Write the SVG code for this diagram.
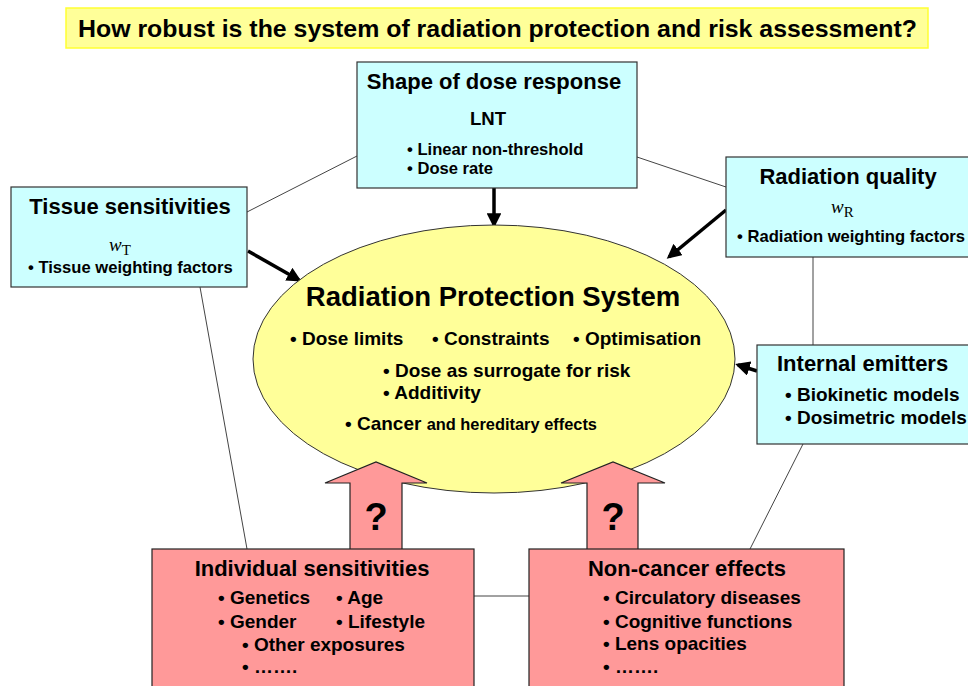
<svg xmlns="http://www.w3.org/2000/svg" width="968" height="686" viewBox="0 0 968 686">
<style>
text{font-family:"Liberation Sans",Arial,sans-serif;font-weight:bold;fill:#000}
.cyan{fill:#ccffff;stroke:#333;stroke-width:1.2}
.pink{fill:#ff9999;stroke:#222;stroke-width:1.2}
.thin{stroke:#444;stroke-width:1;fill:none}
.thick{stroke:#000;stroke-width:3.5;fill:none;marker-end:url(#ah)}
.h{font-size:22px}
.b{font-size:16.6px}
.m{font-size:19px}
.w{font-family:"Liberation Serif","Times New Roman",serif;font-weight:normal;font-size:19px}
</style>
<defs>
<marker id="ah" viewBox="0 0 10 10" refX="8" refY="5" markerWidth="4.2" markerHeight="4.2" orient="auto">
<path d="M0,0 L10,5 L0,10 z" fill="#000"/>
</marker>
</defs>
<rect width="968" height="686" fill="#fff"/>
<g id="title">
<rect x="66" y="8" width="862" height="40" fill="#ffff99" stroke="#ffff33" stroke-width="1.5"/>
<text x="78" y="37" font-size="24" textLength="839" lengthAdjust="spacingAndGlyphs">How robust is the system of radiation protection and risk assessment?</text>
</g>
<g id="connectors">
<line class="thin" x1="247" y1="212" x2="357" y2="156"/>
<line class="thin" x1="637" y1="157" x2="726" y2="187"/>
<line class="thin" x1="813" y1="257" x2="813" y2="345"/>
<line class="thin" x1="803" y1="444" x2="750" y2="549"/>
<line class="thin" x1="200" y1="287" x2="247" y2="549"/>
<line class="thin" x1="474" y1="596" x2="529" y2="596"/>
<line class="thick" x1="494" y1="188" x2="494" y2="225"/>
<line class="thick" x1="248" y1="251" x2="299" y2="280"/>
<line class="thick" x1="726" y1="210" x2="669" y2="257"/>
<line class="thick" x1="757" y1="371" x2="738" y2="365"/>
</g>
<g id="rps">
<ellipse cx="494" cy="359" rx="241" ry="134" fill="#ffff99" stroke="#333" stroke-width="1"/>
<text x="493" y="306" font-size="27.5" text-anchor="middle">Radiation Protection System</text>
<text x="290" y="345" class="m">• Dose limits</text>
<text x="432" y="345" class="m">• Constraints</text>
<text x="573" y="345" class="m">• Optimisation</text>
<text x="383" y="377" class="m">• Dose as surrogate for risk</text>
<text x="383" y="399" class="m">• Additivity</text>
<text x="345" y="430" class="m">• Cancer <tspan font-size="16.4">and hereditary effects</tspan></text>
</g>
<g id="arrow-left">
<path class="pink" d="M350,549 L350,483 L325,483 L376,462 L427,483 L402,483 L402,549"/>
<text x="376" y="530" font-size="38" text-anchor="middle">?</text>
</g>
<g id="arrow-right">
<path class="pink" d="M587,549 L587,483 L561,483 L613,462 L665,483 L638,483 L638,549"/>
<text x="613" y="530" font-size="38" text-anchor="middle">?</text>
</g>
<g id="shape">
<rect class="cyan" x="357" y="62" width="280" height="126"/>
<text x="494" y="89" class="h" text-anchor="middle">Shape of dose response</text>
<text x="488" y="125" font-size="18.6" text-anchor="middle">LNT</text>
<text x="407" y="155" class="b">• Linear non-threshold</text>
<text x="407" y="174" class="b">• Dose rate</text>
</g>
<g id="tissue">
<rect class="cyan" x="11" y="187" width="236" height="100"/>
<text x="130" y="214" class="h" text-anchor="middle">Tissue sensitivities</text>
<text x="109" y="251" class="w"><tspan font-style="italic">w</tspan><tspan font-size="15" dy="4">T</tspan></text>
<text x="28" y="273" class="b">• Tissue weighting factors</text>
</g>
<g id="quality">
<rect class="cyan" x="726" y="157" width="250" height="100"/>
<text x="848" y="184" class="h" text-anchor="middle">Radiation quality</text>
<text x="831" y="213" class="w"><tspan font-style="italic">w</tspan><tspan font-size="15" dy="4">R</tspan></text>
<text x="737" y="242" class="b">• Radiation weighting factors</text>
</g>
<g id="internal">
<rect class="cyan" x="757" y="345" width="220" height="99"/>
<text x="777" y="371" class="h">Internal emitters</text>
<text x="785" y="401" class="m">• Biokinetic models</text>
<text x="785" y="424" class="m">• Dosimetric models</text>
</g>
<g id="individual">
<rect class="pink" x="152" y="549" width="322" height="150"/>
<text x="312" y="576" class="h" text-anchor="middle">Individual sensitivities</text>
<text x="218" y="604" class="m">• Genetics</text>
<text x="336" y="604" class="m">• Age</text>
<text x="218" y="628" class="m">• Gender</text>
<text x="336" y="628" class="m">• Lifestyle</text>
<text x="242" y="651" class="m">• Other exposures</text>
<text x="242" y="673" class="m">• …….</text>
</g>
<g id="noncancer">
<rect class="pink" x="529" y="549" width="315" height="150"/>
<text x="687" y="576" class="h" text-anchor="middle">Non-cancer effects</text>
<text x="603" y="604" class="m">• Circulatory diseases</text>
<text x="603" y="628" class="m">• Cognitive functions</text>
<text x="603" y="650" class="m">• Lens opacities</text>
<text x="603" y="673" class="m">• …….</text>
</g>
</svg>
